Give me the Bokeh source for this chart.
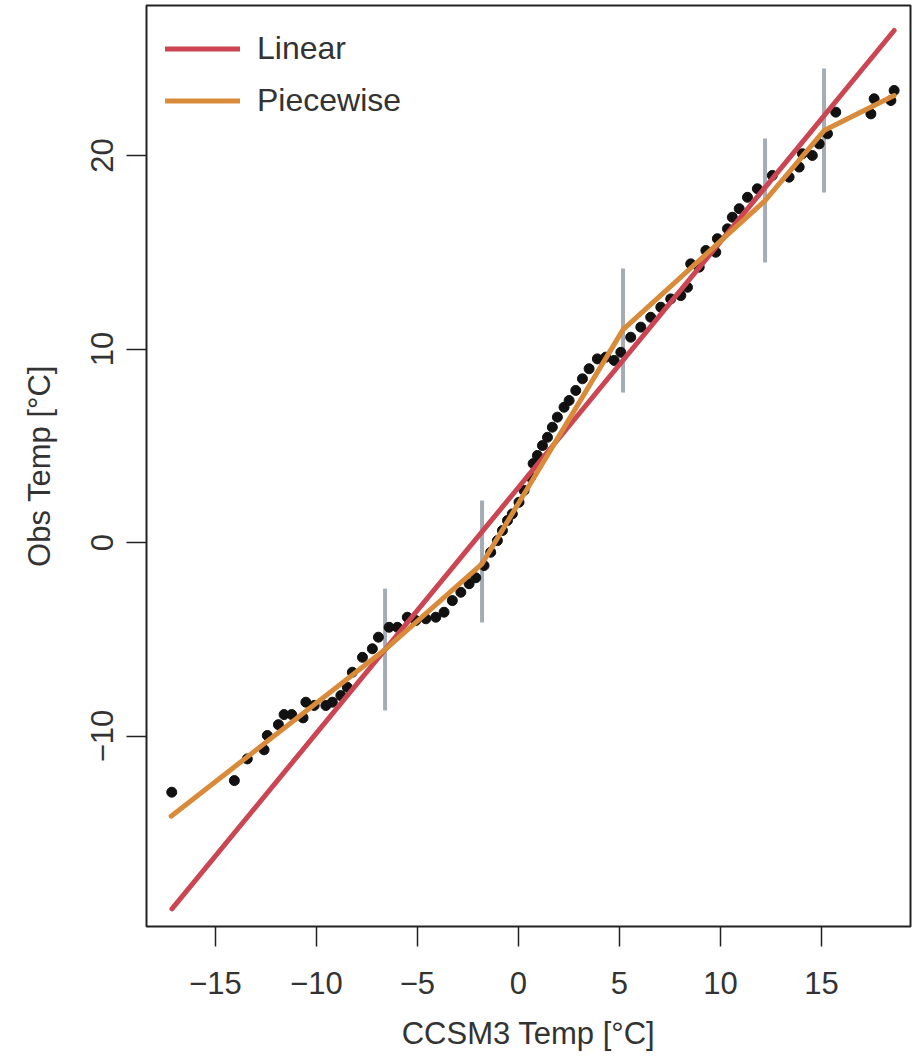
from bokeh.plotting import figure
from bokeh.models import FixedTicker, Legend, LegendItem, Range1d
from bokeh.embed import file_html
from bokeh.resources import INLINE

# ---- data ----
obs_x = [-17.16, -14.06, -13.42, -12.59, -12.43, -11.88, -11.60, -11.22, -10.66, -10.52,
         -10.11, -9.53, -9.21, -8.79, -8.47, -8.22, -7.72, -7.23, -6.93, -6.40,
         -5.99, -5.50, -5.08, -4.58, -4.09, -3.68, -3.27, -2.85, -2.44, -2.11,
         -1.70, -1.37, -1.04, -0.79, -0.54, -0.30, 0.03, 0.28, 0.61, 0.73,
         0.94, 1.19, 1.44, 1.68, 1.93, 2.26, 2.51, 2.84, 3.17, 3.50,
         3.91, 4.33, 4.74, 5.07, 5.56, 6.06, 6.55, 7.05, 7.54, 8.04,
         8.37, 8.53, 8.95, 9.28, 9.77, 9.85, 10.35, 10.59, 10.93, 11.34,
         11.83, 12.57, 13.40, 13.90, 14.06, 14.55, 14.89, 15.30, 15.71, 17.45,
         17.61, 18.44, 18.60]
obs_y = [-12.90, -12.30, -11.18, -10.71, -9.97, -9.41, -8.89, -8.89, -9.06, -8.25,
         -8.42, -8.42, -8.25, -7.91, -7.48, -6.70, -5.93, -5.49, -4.89, -4.38,
         -4.38, -3.86, -4.03, -3.94, -3.86, -3.60, -3.00, -2.57, -2.13, -1.82,
         -1.19, -0.50, 0.10, 0.62, 1.14, 1.48, 2.08, 2.69, 3.38, 4.08,
         4.50, 5.01, 5.44, 5.96, 6.48, 6.99, 7.34, 7.86, 8.46, 8.98,
         9.49, 9.58, 9.41, 9.83, 10.61, 11.13, 11.64, 12.16, 12.59, 12.76,
         13.19, 14.40, 14.23, 15.09, 15.00, 15.70, 16.21, 16.81, 17.25, 17.84,
         18.28, 18.97, 18.88, 19.40, 20.09, 20.00, 20.60, 21.12, 22.24, 22.15,
         22.93, 22.84, 23.36]

lin_x = [-17.15, 18.60]
lin_y = [-18.93, 26.46]

pw_x = [-17.19, -6.60, -1.80, 5.18, 12.21, 15.13, 18.60]
pw_y = [-14.14, -5.53, -1.10, 11.00, 17.67, 21.29, 23.10]

knot_x = [-6.60, -1.80, 5.18, 12.21, 15.13]
knot_lo = [-8.68, -4.13, 7.75, 14.47, 18.09]
knot_hi = [-2.38, 2.17, 14.16, 20.88, 24.50]

x_ticks = [-15, -10, -5, 0, 5, 10, 15]
y_ticks = [-10, 0, 10, 20]

FONT = "Liberation Sans"
RED = "#CB4552"
ORANGE = "#D98B3A"
GRAY = "#A4ACB6"
TXT = "#333333"

p = figure(frame_width=764, frame_height=921,
           x_range=Range1d(-18.41, 19.41), y_range=Range1d(-19.84, 27.75),
           output_backend="svg", toolbar_location=None,
           min_border_left=146, min_border_right=5, min_border_top=5, min_border_bottom=130)

p.xgrid.visible = False
p.ygrid.visible = False
p.outline_line_color = "#222222"
p.outline_line_width = 2
p.background_fill_color = "white"
p.border_fill_color = "white"

p.segment(x0=knot_x, y0=knot_lo, x1=knot_x, y1=knot_hi, line_color=GRAY, line_width=4)
p.scatter(obs_x, obs_y, size=10, fill_color="#111111", line_color="#111111")
r_lin = p.line(lin_x, lin_y, line_color=RED, line_width=5, line_cap="round")
r_pw = p.line(pw_x, pw_y, line_color=ORANGE, line_width=5, line_cap="round", line_join="round")

legend = Legend(items=[LegendItem(label="Linear", renderers=[r_lin]),
                       LegendItem(label="Piecewise", renderers=[r_pw])],
                location=(19, 807), margin=0, padding=0, spacing=15,
                glyph_width=75, glyph_height=37, label_height=37, label_standoff=17,
                border_line_color=None, background_fill_alpha=0,
                label_text_font=FONT, label_text_font_size="32px", label_text_color=TXT)
p.add_layout(legend)

for ax, ticks in ((p.xaxis, x_ticks), (p.yaxis, y_ticks)):
    ax.ticker = FixedTicker(ticks=ticks)
    ax.major_label_overrides = {t: (("\u2212" + str(-t)) if t < 0 else str(t)) for t in ticks}
    ax.axis_line_color = None
    ax.major_tick_out = 20
    ax.major_tick_in = 0
    ax.minor_tick_line_color = None
    ax.major_tick_line_color = "#222222"
    ax.major_tick_line_width = 1.5
    ax.major_label_text_font = FONT
    ax.major_label_text_font_size = "31px"
    ax.major_label_text_color = TXT
    ax.axis_label_text_font = FONT
    ax.axis_label_text_font_size = "31px"
    ax.axis_label_text_font_style = "normal"
    ax.axis_label_text_color = TXT

p.xaxis.axis_label = "CCSM3 Temp [\u00b0C]"
p.yaxis.axis_label = "Obs Temp [\u00b0C]"
p.yaxis.major_label_orientation = "vertical"
p.xaxis.major_label_standoff = 25
p.yaxis.major_label_standoff = 13
p.xaxis.axis_label_standoff = 19
p.yaxis.axis_label_standoff = 32

open("out.html", "w").write(file_html(p, INLINE))
